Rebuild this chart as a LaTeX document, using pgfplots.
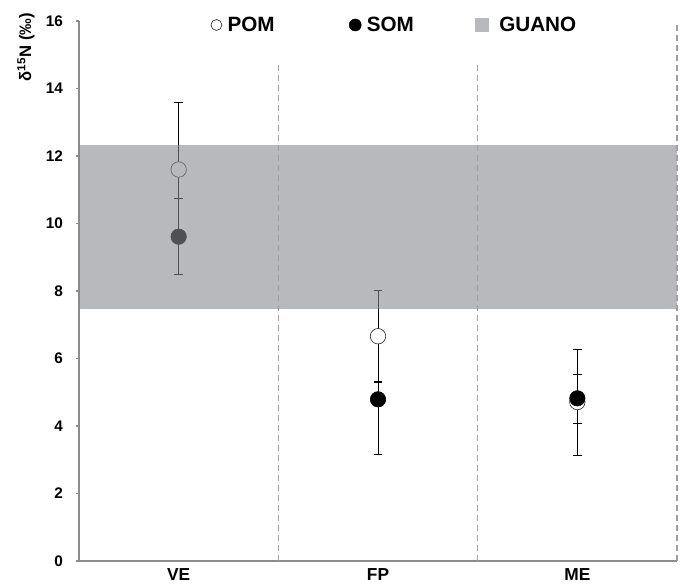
\documentclass[border=0pt]{standalone}
\usepackage{pgfplots}
\pgfplotsset{compat=1.18}
\usepackage{fontspec}
\setmainfont{Liberation Sans}
\definecolor{axisgray}{HTML}{8C8C8C}
\definecolor{dashgray}{HTML}{A0A0A0}
\definecolor{guanofill}{rgb}{0.53,0.535,0.56}
\definecolor{guanoleg}{HTML}{B8B9BD}
\begin{document}
\begin{tikzpicture}[font=\bfseries]
\begin{axis}[
  set layers,
  scale only axis,
  width=448.5pt, height=405pt,
  xmin=0.5, xmax=3.5, ymin=0, ymax=16,
  clip=false,
  axis x line=bottom, axis y line=left,
  axis line style={-, axisgray, line width=0.8pt},
  tick style={axisgray, line width=0.8pt},
  tick align=outside,
  ytick={0,2,...,16},
  major tick length=2.5pt,
  xtick={1,2,3}, xticklabels={VE,FP,ME},
  x tick style={draw=none},
  minor xtick={0.5,1.5,2.5,3.5},
  minor x tick style={axisgray, line width=0.8pt},
  minor tick length=3pt,
  /pgf/number format/assume math mode=true,
  yticklabel style={font=\fontsize{11.5}{13}\selectfont\bfseries, xshift=-6pt},
  xticklabel style={font=\fontsize{13}{15}\selectfont\bfseries, yshift=0pt},
  legend columns=3,
  legend style={draw=none, fill=none, at={(0.528,1.0)}, anchor=center, yshift=-3pt,
    font=\fontsize{15.5}{18}\selectfont\bfseries,
    /tikz/every odd column/.style={column sep=2pt},
    /tikz/every even column/.style={column sep=44pt}},
]
% POM
\addplot[only marks, mark=*, mark size=5.8pt,
  mark options={fill=white, draw=black!80, line width=0.5pt},
  legend image code/.code={\draw[black!80, line width=0.5pt, fill=white] (4.1pt,0pt) circle (4.1pt);},
  error bars/.cd, y dir=both, y explicit,
  error bar style={black, line width=0.65pt},
  error mark options={rotate=90, mark size=3.2pt, black, line width=0.65pt}]
  coordinates {
  (1,11.60) +- (0,2.00)
  (2,6.66) +- (0,1.35)
  (3,4.71) +- (0,1.57)
  };
% SOM
\addplot[only marks, mark=*, mark size=5.8pt,
  mark options={fill=black, draw=black},
  legend image code/.code={\path (-9.75pt,0); \fill[black] (4.5pt,0pt) circle (4.5pt);},
  error bars/.cd, y dir=both, y explicit,
  error bar style={black, line width=0.65pt},
  error mark options={rotate=90, mark size=3.2pt, black, line width=0.65pt}]
  coordinates {
  (1,9.61) += (0,1.12) -= (0,1.12)
  (2,4.79) += (0,0.50) -= (0,1.63)
  (3,4.82) += (0,0.72) -= (0,0.75)
  };
% GUANO band
\addplot[on layer=axis foreground, draw=none, fill=guanofill, fill opacity=0.59,
  legend image code/.code={\fill[guanoleg, fill opacity=1] (0,-5.25pt) rectangle (10.5pt,5.25pt); \path (14pt,0);}]
  coordinates {(0.5,7.48) (3.5,7.48) (3.5,12.32) (0.5,12.32)} -- cycle;
\begin{pgfonlayer}{axis foreground}
\draw[dashgray, line width=0.8pt, dash pattern=on 4.5pt off 3pt] (axis cs:1.5,0) -- (axis cs:1.5,14.76);
\draw[dashgray, line width=0.8pt, dash pattern=on 4.5pt off 3pt] (axis cs:2.5,0) -- (axis cs:2.5,14.76);
\draw[dashgray, line width=0.8pt, dash pattern=on 4.5pt off 3pt] (axis cs:3.5,0) -- (axis cs:3.5,16);
\end{pgfonlayer}
\node[rotate=90, anchor=south east, inner sep=0pt, font=\fontsize{12.5}{14}\selectfont\bfseries]
  at (axis cs:0.279,16.24) {δ\textsuperscript{15}N (‰)};
\legend{POM,SOM,GUANO}
\end{axis}
\pgfresetboundingbox
\path[use as bounding box] ([xshift=-59.25pt,yshift=-20.25pt]current axis.south west) rectangle ([xshift=3pt,yshift=15.75pt]current axis.north east);
\end{tikzpicture}
\end{document}
